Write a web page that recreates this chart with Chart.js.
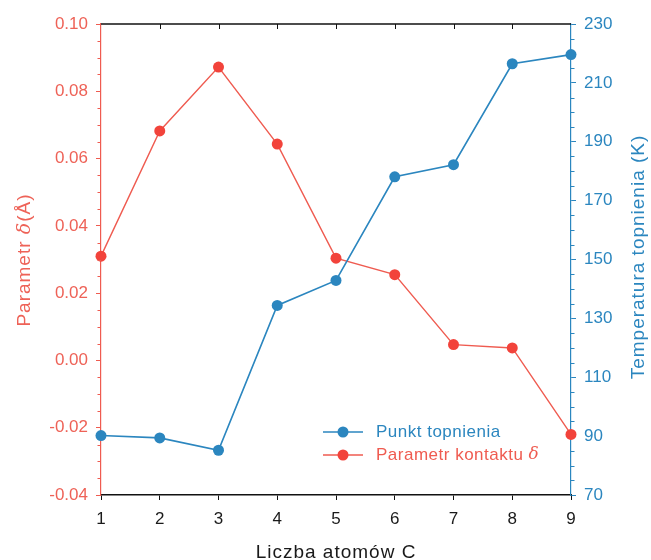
<!DOCTYPE html>
<html>
<head>
<meta charset="utf-8">
<script src="https://cdn.jsdelivr.net/npm/chart.js@4.4.1/dist/chart.umd.min.js"></script>
<style>
  html, body { margin: 0; padding: 0; background: #ffffff; }
  canvas { display: block; }
</style>
</head>
<body>
<canvas id="chart" width="651" height="560"></canvas>
<script>
// Number of carbon atoms in the chain
const carbonAtoms = [1, 2, 3, 4, 5, 6, 7, 8, 9];
// Melting point (K), right axis
const meltingPoint = [90.2, 89.4, 85.2, 134.4, 142.9, 178.1, 182.2, 216.5, 219.6];
// Contact parameter delta (Å), left axis
const contactDelta = [0.031, 0.0682, 0.0872, 0.0643, 0.0304, 0.0255, 0.0047, 0.0037, -0.0220];

// Axis ranges and tick steps
const xTicks = { min: 1, max: 9, step: 1 };
const deltaTicks = { min: -0.04, max: 0.10, step: 0.02, minor: 0.005 };
const tempTicks = { min: 70, max: 230, step: 20, minor: 5 };

const RED = '#EF5B50';
const RED_TEXT = '#EE6257';
const BLUE = '#2B86BF';
const FONT = "'Liberation Sans', Arial, Helvetica, sans-serif";

const meltSeries = carbonAtoms.map((c, i) => ({ x: c, y: meltingPoint[i] }));
const deltaSeries = carbonAtoms.map((c, i) => ({ x: c, y: contactDelta[i] }));

// Minor ticks, top frame line, axis titles and the legend
const decorations = {
  id: 'decorations',
  afterDatasetsDraw(chart) {
    const { ctx, chartArea: a, scales } = chart;
    ctx.save();

    // minor ticks on both value axes
    const minor = (scale, cfg, x0, dir, color) => {
      ctx.strokeStyle = color;
      ctx.lineWidth = 1;
      const n = Math.round((cfg.max - cfg.min) / cfg.minor);
      const ratio = Math.round(cfg.step / cfg.minor);
      for (let i = 0; i <= n; i++) {
        if (i % ratio === 0) continue;
        const y = Math.round(scale.getPixelForValue(cfg.min + i * cfg.minor)) + 0.5;
        ctx.beginPath();
        ctx.moveTo(x0, y);
        ctx.lineTo(x0 + dir * 3.5, y);
        ctx.stroke();
      }
    };
    minor(scales.y, deltaTicks, a.left, -1, RED);
    minor(scales.y2, tempTicks, a.right, 1, BLUE);

    // top frame with inward ticks
    ctx.strokeStyle = '#111111';
    ctx.lineWidth = 1.5;
    ctx.beginPath();
    ctx.moveTo(a.left, a.top);
    ctx.lineTo(a.right, a.top);
    ctx.stroke();
    ctx.lineWidth = 1;
    for (let v = xTicks.min + 1; v < xTicks.max; v += xTicks.step) {
      const x = Math.round(scales.x.getPixelForValue(v)) + 0.5;
      ctx.beginPath();
      ctx.moveTo(x, a.top);
      ctx.lineTo(x, a.top + 5);
      ctx.stroke();
    }

    // axis titles
    ctx.letterSpacing = '1px';
    ctx.textBaseline = 'alphabetic';

    // x title
    ctx.fillStyle = '#1a1a1a';
    ctx.font = `19px ${FONT}`;
    ctx.textAlign = 'center';
    ctx.fillText('Liczba atomów C', (a.left + a.right) / 2, 558);

    // rotated titles (read bottom to top), mixed upright / italic parts
    const drawMixed = (parts, cx, cy, color) => {
      ctx.save();
      ctx.translate(cx, cy);
      ctx.rotate(-Math.PI / 2);
      ctx.fillStyle = color;
      ctx.textAlign = 'left';
      let total = 0;
      parts.forEach(p => { ctx.font = p.font; total += ctx.measureText(p.text).width; });
      let x = -total / 2;
      parts.forEach(p => {
        ctx.font = p.font;
        ctx.fillText(p.text, x, 0);
        x += ctx.measureText(p.text).width;
      });
      ctx.restore();
    };
    drawMixed([
      { text: 'Parametr ', font: `19px ${FONT}` },
      { text: 'δ', font: `italic 19px 'DejaVu Serif', serif` },
      { text: '(Å)', font: `19px ${FONT}` }
    ], 30, 260, RED_TEXT);

    drawMixed([
      { text: 'Temperatura topnienia (K)', font: `19px ${FONT}` }
    ], 644, 257, BLUE);

    // legend
    ctx.letterSpacing = '0.5px';
    const rows = [
      { ds: chart.data.datasets[0], parts: [{ text: 'Punkt topnienia', font: `17px ${FONT}` }] },
      { ds: chart.data.datasets[1], parts: [
        { text: 'Parametr kontaktu ', font: `17px ${FONT}` },
        { text: 'δ', font: `italic 17px 'DejaVu Serif', serif` }
      ] }
    ];
    const lx = a.left + 222, ly = 432, rowH = 23;
    rows.forEach((r, i) => {
      const y = ly + i * rowH;
      ctx.strokeStyle = r.ds.borderColor;
      ctx.lineWidth = 1.5;
      ctx.beginPath();
      ctx.moveTo(lx, y);
      ctx.lineTo(lx + 40, y);
      ctx.stroke();
      ctx.fillStyle = r.ds.pointBackgroundColor;
      ctx.beginPath();
      ctx.arc(lx + 20, y, 5.5, 0, Math.PI * 2);
      ctx.fill();
      ctx.fillStyle = r.ds.borderColor;
      ctx.textAlign = 'left';
      ctx.textBaseline = 'middle';
      let x = lx + 53;
      r.parts.forEach(p => {
        ctx.font = p.font;
        ctx.fillText(p.text, x, y);
        x += ctx.measureText(p.text).width;
      });
    });
    ctx.restore();
  }
};

new Chart(document.getElementById('chart'), {
  type: 'line',
  data: {
    datasets: [
      {
        label: 'Punkt topnienia',
        data: meltSeries,
        yAxisID: 'y2',
        borderColor: BLUE,
        backgroundColor: BLUE,
        pointBackgroundColor: BLUE,
        pointBorderColor: BLUE,
        borderWidth: 1.6,
        pointRadius: 5.5,
        pointBorderWidth: 0,
        tension: 0,
        clip: false
      },
      {
        label: 'Parametr kontaktu δ',
        data: deltaSeries,
        yAxisID: 'y',
        borderColor: RED,
        backgroundColor: RED,
        pointBackgroundColor: '#F2433B',
        pointBorderColor: '#F2433B',
        borderWidth: 1.4,
        pointRadius: 5.5,
        pointBorderWidth: 0,
        tension: 0,
        clip: false
      }
    ]
  },
  options: {
    responsive: false,
    animation: false,
    devicePixelRatio: 1,
    layout: { padding: { top: 24, left: 0, right: 0, bottom: 0 } },
    plugins: {
      legend: { display: false },
      tooltip: { enabled: false }
    },
    scales: {
      x: {
        type: 'linear',
        position: 'bottom',
        min: xTicks.min,
        max: xTicks.max,
        ticks: {
          stepSize: xTicks.step,
          color: '#1a1a1a',
          font: { family: FONT, size: 17 },
          padding: 9
        },
        grid: { drawOnChartArea: false, tickLength: 5, tickColor: '#111111', tickWidth: 1 },
        border: { color: '#111111', width: 1.5 },
        afterFit(s) { s.height = 65; }
      },
      y: {
        type: 'linear',
        position: 'left',
        min: deltaTicks.min,
        max: deltaTicks.max,
        ticks: {
          stepSize: deltaTicks.step,
          color: RED_TEXT,
          font: { family: FONT, size: 17 },
          padding: 8,
          callback: v => v.toFixed(2)
        },
        grid: { drawOnChartArea: false, tickLength: 5, tickColor: RED, tickWidth: 1 },
        border: { color: RED, width: 1.2 },
        afterFit(s) { s.width = 101; }
      },
      y2: {
        type: 'linear',
        position: 'right',
        min: tempTicks.min,
        max: tempTicks.max,
        ticks: {
          stepSize: tempTicks.step,
          color: BLUE,
          font: { family: FONT, size: 17 },
          padding: 8
        },
        grid: { drawOnChartArea: false, tickLength: 5, tickColor: BLUE, tickWidth: 1 },
        border: { color: BLUE, width: 1.2 },
        afterFit(s) { s.width = 80; }
      }
    }
  },
  plugins: [decorations]
});
</script>
</body>
</html>
